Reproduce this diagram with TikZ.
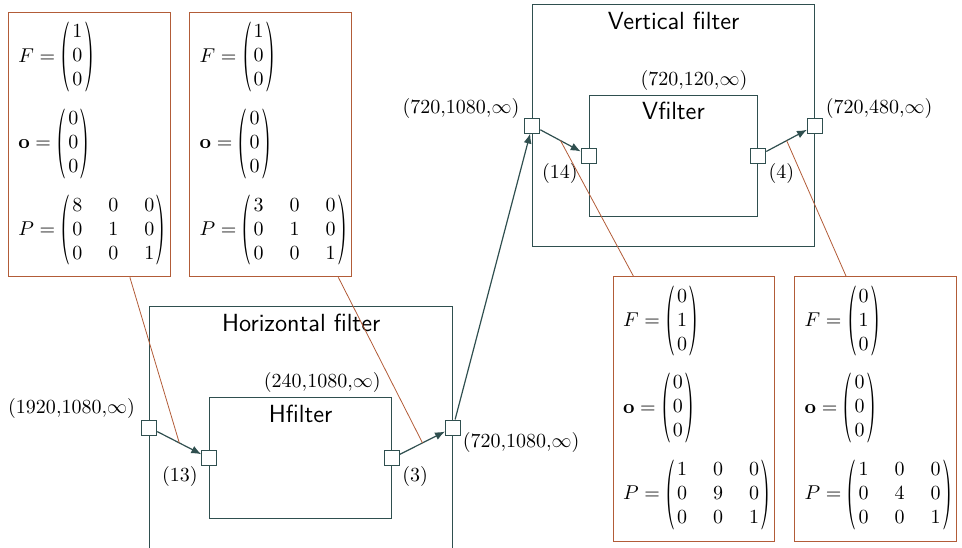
\documentclass[tikz,border=0pt]{standalone}
\usepackage{amsmath}
\usepackage{graphicx}
\usetikzlibrary{arrows.meta,calc}
\definecolor{slate}{RGB}{47,79,79}
\definecolor{callout}{RGB}{178,92,56}
\newcommand\mylp{\vcenter{\hbox{\scalebox{1.3}[3.5]{$($}}}\kern0.8pt}
\newcommand\myrp{\kern0.8pt\vcenter{\hbox{\scalebox{1.3}[3.5]{$)$}}}}
\newcommand\cvec[3]{\mylp\begin{matrix}#1\\#2\\#3\end{matrix}\myrp}
\newcommand\pmat[3]{\mylp{\setlength\arraycolsep{6.5pt}\begin{matrix}#1&0&0\\0&#2&0\\0&0&#3\end{matrix}}\myrp}
\begin{document}
\begin{tikzpicture}[x=0.5pt,y=-0.5pt,
  box/.style={draw=slate,line width=0.5pt,rectangle,inner sep=0pt,anchor=north west},
  port/.style={draw=slate,fill=white,line width=0.5pt,rectangle,minimum size=7.5pt,inner sep=0pt},
  flow/.style={draw=slate,line width=0.6pt,-{Latex[length=5pt,width=4pt]}},
  title/.style={font=\fontsize{12.4}{15}\sffamily,inner sep=0pt,anchor=base},
  lbl/.style={inner sep=0pt},
  mbox/.style={draw=callout,line width=0.5pt,rectangle,inner sep=0pt,anchor=north west,minimum width=80.75pt,minimum height=132.3pt},
  mrow/.style={inner sep=0pt,anchor=west},
  callline/.style={draw=callout,line width=0.4pt}]
\useasboundingbox (0,0) rectangle (962,547);
\clip (0,0) rectangle (962,547);

% filter boxes
\node[box,minimum width=151.35pt,minimum height=121pt] (hout) at (149.3,306) {};
\node[box,minimum width=90.85pt,minimum height=60.5pt] (hin) at (209.3,397.3) {};
\node[box,minimum width=140.85pt,minimum height=121pt] (vout) at (532.3,4) {};
\node[box,minimum width=84.3pt,minimum height=60.5pt] (vin) at (588.7,94.7) {};

\node[title] (htitle) at ([yshift=-12.5pt]hout.north) {Horizontal filter};
\node[title] (hname) at ([yshift=-12.5pt]hin.north) {Hfilter};
\node[title] (vtitle) at ([yshift=-12.5pt]vout.north) {Vertical filter};
\node[title] (vname) at ([yshift=-12.5pt]vin.north) {Vfilter};

\node[lbl,anchor=base east] (hsize) at ([xshift=-5.5pt,yshift=5pt]hin.north east) {$(240{,}1080{,}\infty)$};
\node[lbl,anchor=base east] (vsize) at ([xshift=-5.3pt,yshift=4.5pt]vin.north east) {$(720{,}120{,}\infty)$};

% ports
\node[port] (hpin) at (hout.west) {};
\node[port] (hfin) at (hin.west) {};
\node[port] (hfout) at (hin.east) {};
\node[port] (hpout) at (hout.east) {};
\node[port] (vpin) at (vout.west) {};
\node[port] (vfin) at (vin.west) {};
\node[port] (vfout) at (vin.east) {};
\node[port] (vpout) at (vout.east) {};

% port labels
\node[lbl,anchor=base east] (lhpin) at ([xshift=-3pt,yshift=3pt]hpin.north west) {$(1920{,}1080{,}\infty)$};
\node[lbl,anchor=base west] (lhpout) at ([xshift=0.7pt,yshift=-6pt]hpout.south east) {$(720{,}1080{,}\infty)$};
\node[lbl,anchor=base east] (lhfin) at ([xshift=-1.6pt,yshift=-7.8pt]hfin.south west) {$(13)$};
\node[lbl,anchor=base west] (lhfout) at ([xshift=1pt,yshift=-7.8pt]hfout.south east) {$(3)$};
\node[lbl,anchor=base east] (lvpin) at ([xshift=-2.3pt,yshift=1.8pt]vpin.north west) {$(720{,}1080{,}\infty)$};
\node[lbl,anchor=base west] (lvpout) at ([xshift=1.2pt,yshift=1.8pt]vpout.north east) {$(720{,}480{,}\infty)$};
\node[lbl,anchor=base east] (lvfin) at ([xshift=-1.3pt,yshift=-7.5pt]vfin.south west) {$(14)$};
\node[lbl,anchor=base west] (lvfout) at ([xshift=0.9pt,yshift=-7.5pt]vfout.south east) {$(4)$};

% connectors
\draw[flow] (hpin) -- coordinate[midway] (m1) (hfin);
\draw[flow] (hfout) -- coordinate[midway] (m2) (hpout);
\draw[flow] (hpout) -- (vpin);
\draw[flow] (vpin) -- coordinate[midway] (m3) (vfin);
\draw[flow] (vfout) -- coordinate[midway] (m4) (vpout);

% parameter boxes
\node[mbox] (b1) at (8,11.7) {};
\node[mbox] (b2) at (189.3,11.7) {};
\node[mbox] (b3) at (612.7,276) {};
\node[mbox] (b4) at (794.3,276) {};

\node[mrow] (b1f) at ($(b1.north west)+(10,45.3)$) {$F = \cvec100$};
\node[mrow] (b1o) at ($(b1.north west)+(10,132)$) {$\mathbf{o} = \cvec000$};
\node[mrow] (b1p) at ($(b1.north west)+(10,218.6)$) {$P = \pmat811$};
\node[mrow] (b2f) at ($(b2.north west)+(10,45.3)$) {$F = \cvec100$};
\node[mrow] (b2o) at ($(b2.north west)+(10,132)$) {$\mathbf{o} = \cvec000$};
\node[mrow] (b2p) at ($(b2.north west)+(10,218.6)$) {$P = \pmat311$};
\node[mrow] (b3f) at ($(b3.north west)+(10,45.3)$) {$F = \cvec010$};
\node[mrow] (b3o) at ($(b3.north west)+(10,132)$) {$\mathbf{o} = \cvec000$};
\node[mrow] (b3p) at ($(b3.north west)+(10,218.6)$) {$P = \pmat191$};
\node[mrow] (b4f) at ($(b4.north west)+(10,45.3)$) {$F = \cvec010$};
\node[mrow] (b4o) at ($(b4.north west)+(10,132)$) {$\mathbf{o} = \cvec000$};
\node[mrow] (b4p) at ($(b4.north west)+(10,218.6)$) {$P = \pmat141$};

% callout lines
\draw[callline] ($(b1.south west)!0.75!(b1.south east)$) -- (m1);
\draw[callline] ($(b2.south west)!0.917!(b2.south east)$) -- (m2);
\draw[callline] ($(b3.north west)!0.127!(b3.north east)$) -- (m3);
\draw[callline] ($(b4.north west)!0.318!(b4.north east)$) -- (m4);
\end{tikzpicture}
\end{document}
